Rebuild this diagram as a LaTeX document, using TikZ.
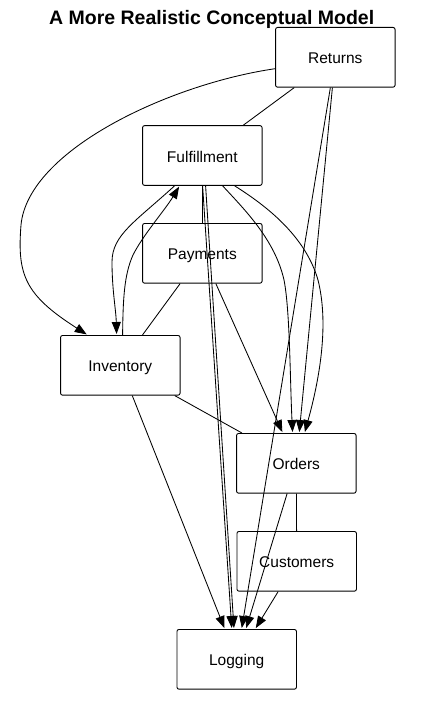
\documentclass[tikz,border=0pt]{standalone}
\usepackage{fontspec}
\setmainfont{Liberation Sans}
\usetikzlibrary{arrows.meta,calc}
\begin{document}
\begin{tikzpicture}[x=1pt,y=-1pt,
  box/.style={draw, line width=0.9pt, rounded corners=2pt, minimum width=119.5pt, minimum height=59.7pt, inner sep=0pt, text height=13.2pt, text depth=0pt, font=\fontsize{15.5}{18}\selectfont},
  edge/.style={line width=0.85pt},
  arr/.style={edge, -{Triangle[length=12pt,width=9pt]}, shorten >=1pt}]
\useasboundingbox (0,0) rectangle (432,714);
\fill[white] (0,0) rectangle (432,714);
\node[font=\bfseries\fontsize{19.5}{22}\selectfont, anchor=base, inner sep=0pt] (title) at (211.7,25) {A More Realistic Conceptual Model};
\node[box] (ret) at (335.3,57.3) {Returns};
\node[box] (ful) at (202.3,155.5) {Fulfillment};
\node[box] (pay) at (202.3,253.3) {Payments};
\node[box] (inv) at (120.3,365.3) {Inventory};
\node[box] (ord) at (296.3,463.3) {Orders};
\node[box] (cus) at (296.7,561.3) {Customers};
\node[box] (log) at (236.7,659.3) {Logging};
% straight connectors
\draw[edge] (ret) -- (ful);
\draw[arr] (ret) -- (ord);
\draw[arr] (ret) -- (log);
\draw[edge] (ful) -- (pay);
\draw[edge] (pay) -- (inv);
\draw[arr] (pay) -- (ord);
\draw[edge] (inv) -- (ord);
\draw[arr] (inv) -- (log);
\draw[edge] (ord) -- (cus);
\draw[arr] (ord) -- (log);
\draw[arr] (cus) -- (log);
\draw[arr] ($(ful.south west)+(60.5,0)$) -- ($(log.north west)+(55.3,0)$);
\draw[arr] ($(ful.south west)+(63.5,0)$) -- ($(log.north west)+(57.5,0)$);
% curved connectors
\draw[arr] ($(ret.north west)+(0,41.7)$) .. controls (170,84) and (28,150) .. (21,225)
  .. controls (17,275) and (25,295) .. ($(inv.north west)+(27.5,0)$);
\draw[arr] ($(ful.south west)+(32.5,0)$) .. controls (135,222) and (112,235) .. (112,262)
  .. controls (112,290) and (116,310) .. ($(inv.north west)+(56.5,0)$);
\draw[arr] ($(inv.north west)+(62.5,0)$) .. controls (123,300) and (124,275) .. (133,255)
  .. controls (143,235) and (165,210) .. ($(ful.south west)+(37.5,0)$);
\draw[arr] ($(ful.south west)+(80.5,0)$) .. controls (245,210) and (275,240) .. (284,280)
  .. controls (290,310) and (290,380) .. ($(ord.north west)+(56.5,0)$);
\draw[arr] ($(ful.south west)+(92.5,0)$) .. controls (265,205) and (305,235) .. (318,280)
  .. controls (328,320) and (322,370) .. ($(ord.north west)+(68.5,0)$);
\end{tikzpicture}
\end{document}
